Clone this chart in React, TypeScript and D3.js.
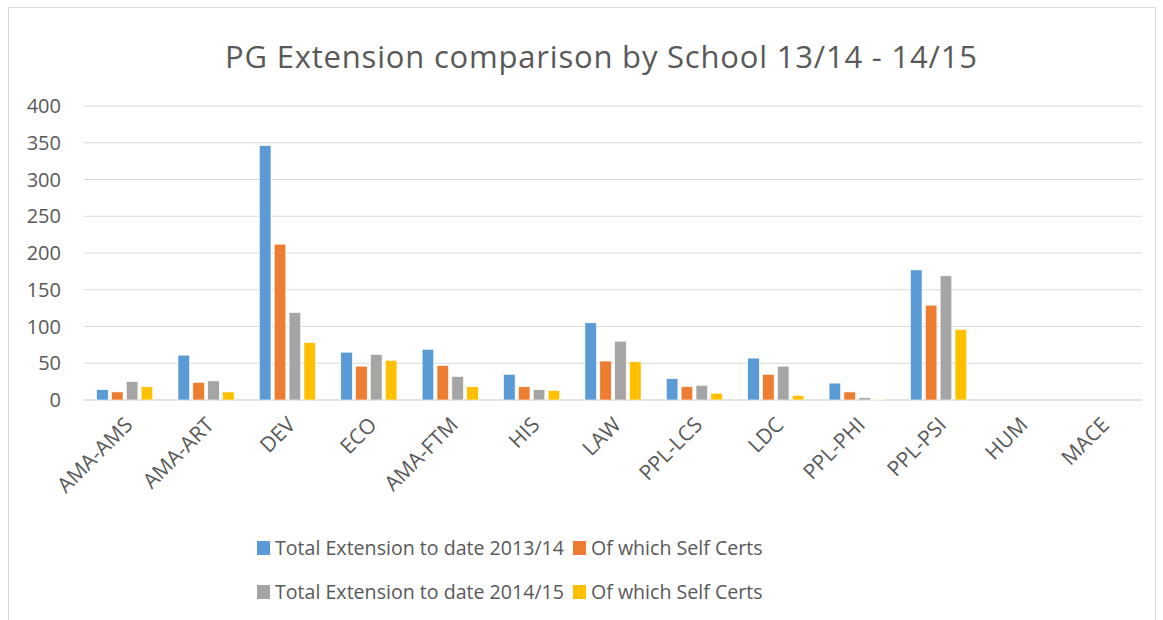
import React from "react";
import { scaleBand, scaleLinear } from "d3";

const schools = ["AMA-AMS", "AMA-ART", "DEV", "ECO", "AMA-FTM", "HIS", "LAW", "PPL-LCS", "LDC", "PPL-PHI", "PPL-PSI", "HUM", "MACE"];
const total1314 = [14, 61, 346, 65, 69, 35, 105, 29, 57, 23, 177, 0, 0];
const self1314 = [11, 24, 212, 46, 47, 18, 53, 18, 35, 11, 129, 0, 0];
const total1415 = [25, 26, 119, 62, 32, 14, 80, 20, 46, 3, 169, 0, 0];
const self1415 = [18, 11, 78, 54, 18, 13, 52, 9, 6, 1, 96, 0, 0];
const yTicks = [0, 50, 100, 150, 200, 250, 300, 350, 400];

const seriesNames = [
    "Total Extension to date 2013/14",
    "Of which Self Certs",
    "Total Extension to date 2014/15",
    "Of which Self Certs",
];
const colors = ["#5B9BD5", "#ED7D31", "#A5A5A5", "#FFC000"];
const series = [total1314, self1314, total1415, self1415];

const W = 1163;
const H = 620;
const plot = { left: 84, right: 1142, top: 106, bottom: 400 };
const font = "'Open Sans', 'Liberation Sans', Arial, sans-serif";
const textColor = "#595959";

const App = () => {
    const x = scaleBand<string>().domain(schools).range([plot.left, plot.right]).paddingInner(0.31).paddingOuter(0.155);
    const inner = scaleBand<number>().domain([0, 1, 2, 3]).range([0, x.bandwidth()]).paddingInner(0.22);
    const y = scaleLinear().domain([0, 400]).range([plot.bottom, plot.top]);

    // legend layout: two rows, two entries each
    const legendCols = [257, 573];
    const legendRows = [548, 592];

    return (
        <svg width={W} height={H} style={{ position: "absolute", left: 0, top: 0, background: "#fff" }} fontFamily={font}>
            <rect x={8.5} y={7.5} width={1147} height={H} fill="#fff" stroke="#D9D9D9" />

            <text x={601} y={68} textAnchor="middle" fontSize={31} textLength={752} lengthAdjust="spacing" fill={textColor}>
                PG Extension comparison by School 13/14 - 14/15
            </text>

            {yTicks.map((t) => (
                <g key={t}>
                    <line x1={plot.left} x2={plot.right} y1={y(t)} y2={y(t)} stroke="#D9D9D9" strokeWidth={t === 0 ? 1.5 : 1} />
                    <text x={61} y={y(t)} dy="0.36em" textAnchor="end" fontSize={20} fill={textColor}>
                        {t}
                    </text>
                </g>
            ))}

            {series.map((vals, si) =>
                vals.map((v, i) =>
                    v > 0 ? (
                        <rect
                            key={`${si}-${i}`}
                            x={(x(schools[i]) ?? 0) + (inner(si) ?? 0)}
                            y={y(v)}
                            width={inner.bandwidth()}
                            height={y(0) - y(v)}
                            fill={colors[si]}
                            stroke="#fff"
                            strokeWidth={0.6}
                        />
                    ) : null
                )
            )}

            {schools.map((s) => {
                const cx = (x(s) ?? 0) + x.bandwidth() / 2;
                return (
                    <text
                        key={s}
                        transform={`translate(${cx + 4},${plot.bottom + 21}) rotate(-45)`}
                        textAnchor="end"
                        dy="0.35em"
                        fontSize={21}
                        fill={textColor}
                    >
                        {s}
                    </text>
                );
            })}

            {seriesNames.map((name, i) => {
                const lx = legendCols[i % 2];
                const ly = legendRows[Math.floor(i / 2)];
                return (
                    <g key={i} transform={`translate(${lx},${ly})`}>
                        <rect x={0} y={-7} width={13} height={14} fill={colors[i]} />
                        <text x={18} y={0} dy="0.35em" fontSize={19.6} fill={textColor}>
                            {name}
                        </text>
                    </g>
                );
            })}
        </svg>
    );
};

export default App;
